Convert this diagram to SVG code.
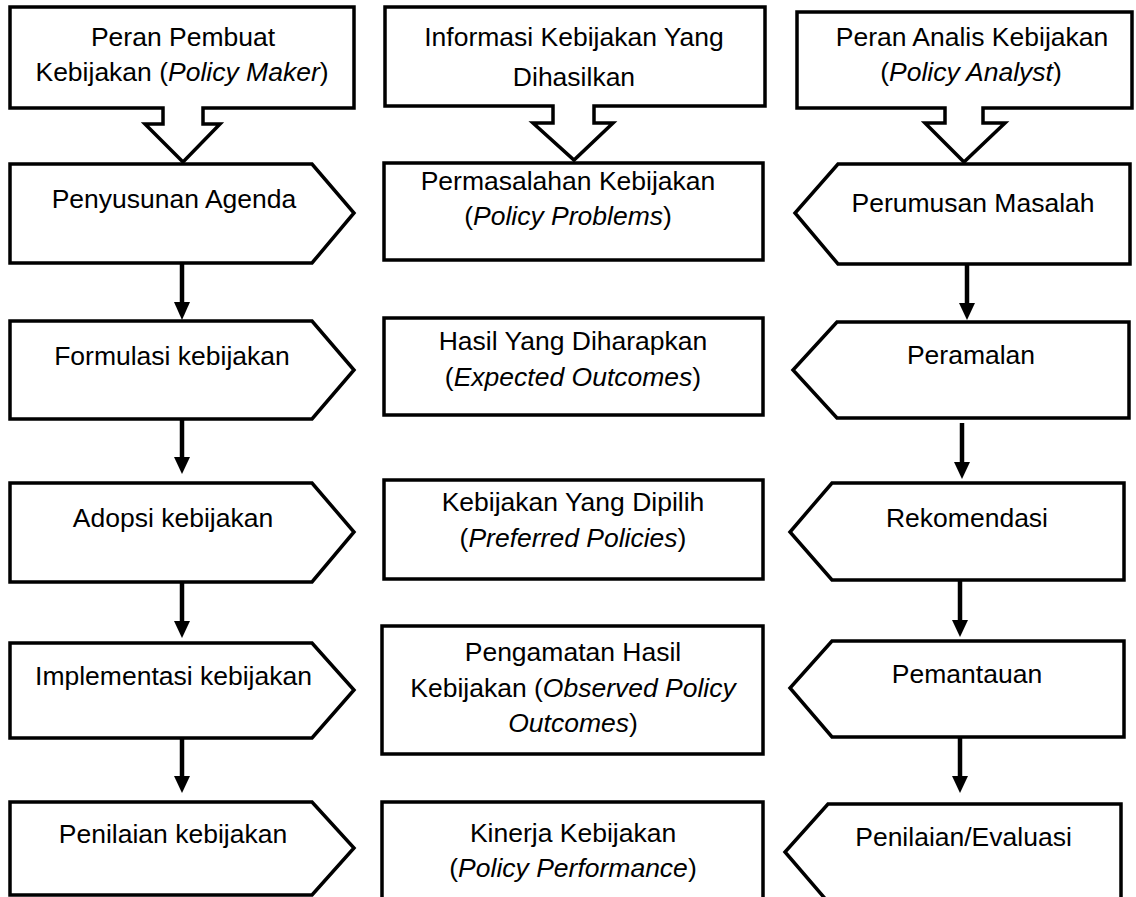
<svg xmlns="http://www.w3.org/2000/svg" width="1136" height="897" viewBox="0 0 1136 897">
<style>
.s{fill:#fff;stroke:#000;stroke-width:3.5;stroke-linejoin:miter}
.t{font-family:"Liberation Sans",Arial,sans-serif;font-size:26.5px;fill:#000;text-anchor:middle}
.i{font-style:italic}
.c{stroke:#000;stroke-width:4.5;fill:none}
</style>
<defs>
<marker id="ah" markerUnits="userSpaceOnUse" markerWidth="18" markerHeight="18" viewBox="0 0 16 17" refX="8" refY="17" orient="auto-start-reverse">
<path d="M0,0 L16,0 L8,17 Z" fill="#000" transform="rotate(0)"/>
</marker>
</defs>
<rect width="1136" height="897" fill="#fff"/>

<!-- Left column -->
<g id="callout-left">
<path class="s" d="M10,7 H354 V108 H203 V124 H220 L183,162 L145,124 H163 V108 H10 Z"/>
<text class="t" x="183" y="46">Peran Pembuat</text>
<text class="t" x="182" y="81">Kebijakan (<tspan class="i">Policy Maker</tspan>)</text>
</g>
<g id="l1"><path class="s" d="M10,164 H312 L354,213 L312,263 H10 Z"/><text class="t" x="174" y="208">Penyusunan Agenda</text></g>
<g id="l2"><path class="s" d="M10,321 H312 L354,370 L312,419 H10 Z"/><text class="t" x="172" y="365">Formulasi kebijakan</text></g>
<g id="l3"><path class="s" d="M10,483 H312 L354,532 L312,582 H10 Z"/><text class="t" x="173" y="527">Adopsi kebijakan</text></g>
<g id="l4"><path class="s" d="M10,643 H312 L354,690 L312,738 H10 Z"/><text class="t" x="173.5" y="685">Implementasi kebijakan</text></g>
<g id="l5"><path class="s" d="M10,802 H312 L354,848 L312,895 H10 Z"/><text class="t" x="173" y="843">Penilaian kebijakan</text></g>

<!-- Middle column -->
<g id="callout-mid">
<path class="s" d="M385,7 H765 V106 H594 V123 H613 L574,160 L533,123 H553 V106 H385 Z"/>
<text class="t" x="574" y="46">Informasi Kebijakan Yang</text>
<text class="t" x="574" y="86">Dihasilkan</text>
</g>
<g id="m1"><rect class="s" x="384" y="163" width="379" height="97"/>
<text class="t" x="568" y="190">Permasalahan Kebijakan</text>
<text class="t" x="568" y="225">(<tspan class="i">Policy Problems</tspan>)</text></g>
<g id="m2"><rect class="s" x="384" y="318" width="379" height="97"/>
<text class="t" x="573" y="350">Hasil Yang Diharapkan</text>
<text class="t" x="573" y="386">(<tspan class="i">Expected Outcomes</tspan>)</text></g>
<g id="m3"><rect class="s" x="384" y="480" width="379" height="99"/>
<text class="t" x="573" y="511">Kebijakan Yang Dipilih</text>
<text class="t" x="573" y="547">(<tspan class="i">Preferred Policies</tspan>)</text></g>
<g id="m4"><rect class="s" x="382" y="626" width="381" height="128"/>
<text class="t" x="573" y="661">Pengamatan Hasil</text>
<text class="t" x="573" y="697">Kebijakan (<tspan class="i">Observed Policy</tspan></text>
<text class="t" x="573" y="732"><tspan class="i">Outcomes</tspan>)</text></g>
<g id="m5"><rect class="s" x="382" y="802" width="381" height="100"/>
<text class="t" x="573" y="842">Kinerja Kebijakan</text>
<text class="t" x="573" y="877">(<tspan class="i">Policy Performance</tspan>)</text></g>

<!-- Right column -->
<g id="callout-right">
<path class="s" d="M797,12 H1132 V108 H983 V123 H1005 L964,162 L925,123 H945 V108 H797 Z"/>
<text class="t" x="972" y="46">Peran Analis Kebijakan</text>
<text class="t" x="971" y="81">(<tspan class="i">Policy Analyst</tspan>)</text>
</g>
<g id="r1"><path class="s" d="M838,164 H1130 V264 H838 L795,213 Z"/><text class="t" x="973" y="212">Perumusan Masalah</text></g>
<g id="r2"><path class="s" d="M837,322 H1129 V418 H837 L793,370 Z"/><text class="t" x="971" y="364">Peramalan</text></g>
<g id="r3"><path class="s" d="M832,483 H1124 V580 H832 L790,532 Z"/><text class="t" x="967" y="527">Rekomendasi</text></g>
<g id="r4"><path class="s" d="M832,641 H1124 V737 H832 L790,688 Z"/><text class="t" x="967" y="683">Pemantauan</text></g>
<g id="r5"><path class="s" d="M828,804 H1121 V902 H828 L785,852 Z"/><text class="t" x="963.5" y="846">Penilaian/Evaluasi</text></g>

<!-- Connectors -->
<g id="connectors">
<line class="c" x1="182" y1="263" x2="182" y2="303"/>
<path d="M174,302 H190 L182,320 Z"/>
<line class="c" x1="182" y1="419" x2="182" y2="458"/>
<path d="M174,457 H190 L182,474 Z"/>
<line class="c" x1="182" y1="582" x2="182" y2="622"/>
<path d="M174,621 H190 L182,638 Z"/>
<line class="c" x1="182" y1="738" x2="182" y2="777"/>
<path d="M174,776 H190 L182,793 Z"/>

<line class="c" x1="967" y1="264" x2="967" y2="304"/>
<path d="M959,303 H975 L967,320 Z"/>
<line class="c" x1="962" y1="423" x2="962" y2="463"/>
<path d="M954,462 H970 L962,479 Z"/>
<line class="c" x1="960" y1="580" x2="960" y2="621"/>
<path d="M952,620 H968 L960,637 Z"/>
<line class="c" x1="960" y1="737" x2="960" y2="777"/>
<path d="M952,776 H968 L960,793 Z"/>
</g>
</svg>
